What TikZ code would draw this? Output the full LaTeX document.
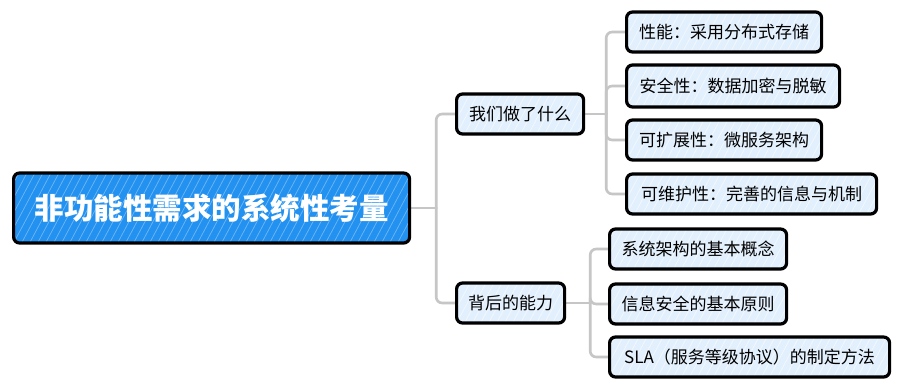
\documentclass[tikz,border=0pt]{standalone}
\usepackage{fontspec}
\setmainfont{Noto Sans CJK SC}
\usetikzlibrary{calc,backgrounds}
\definecolor{rootblue}{HTML}{2291F0}
\definecolor{leafblue}{HTML}{E2EFFC}
\definecolor{linegray}{HTML}{C6C6C6}
\tikzset{
  hatch/.style={path picture={
      \foreach \i in {-14,...,54}{
        \draw[white,opacity=#1,line width=0.7pt]
          ($(path picture bounding box.south west)+(\i*8pt,0pt)$) -- ++(40pt,75pt);
      }}},
  boxbase/.style={draw=black,line width=3.2pt,rounded corners=6pt,anchor=west,inner xsep=0pt,inner ysep=0pt},
  rootbox/.style={boxbase,fill=rootblue,hatch=0.35,text=white,
      font=\fontsize{29.5}{30}\selectfont\bfseries,minimum height=70pt},
  leaf/.style={boxbase,fill=leafblue,hatch=0.6,text=black,
      font=\fontsize{17}{18}\selectfont,minimum height=40pt},
  conn/.style={draw=linegray,line width=2.6pt,rounded corners=6pt,line cap=round}
}
\begin{document}
\begin{tikzpicture}[x=1pt,y=-1pt]
\useasboundingbox (0,0) rectangle (904,388);

\node[rootbox,minimum width=396pt] (root) at (12,208) {非功能性需求的系统性考量};

\node[leaf,minimum width=127pt] (w) at (455,114) {我们做了什么};
\node[leaf,minimum width=108pt] (b) at (455,303) {背后的能力};

\node[leaf,minimum width=195pt] (c1) at (625,32) {性能：采用分布式存储};
\node[leaf,minimum width=213pt,minimum height=42pt] (c2) at (625,86) {安全性：数据加密与脱敏};
\node[leaf,minimum width=195pt] (c3) at (625,140) {可扩展性：微服务架构};
\node[leaf,minimum width=250pt] (c4) at (625,194) {可维护性：完善的信息与机制};

\node[leaf,minimum width=177pt] (d1) at (608,249) {系统架构的基本概念};
\node[leaf,minimum width=177pt] (d2) at (608,304) {信息安全的基本原则};
\node[leaf,minimum width=280pt] (d3) at (608,357) {SLA（服务等级协议）的制定方法};

\coordinate (rt) at ($(root.east)+(25pt,0pt)$);
\coordinate (wt) at ($(w.east)+(21pt,0pt)$);
\coordinate (bt) at ($(b.east)+(24pt,0pt)$);

\begin{scope}[on background layer]
  \fill[white] (0,0) rectangle (904,388);
  \draw[conn] (root.east) -- (rt);
  \draw[conn] (rt) |- (w.west);
  \draw[conn] (rt) |- (b.west);
  \draw[conn] (w.east) -- (wt);
  \foreach \n in {c1,c2,c3,c4}{\draw[conn] (wt) |- (\n.west);}
  \draw[conn] (b.east) -- (bt);
  \foreach \n in {d1,d2,d3}{\draw[conn] (bt) |- (\n.west);}
\end{scope}
\end{tikzpicture}
\end{document}
